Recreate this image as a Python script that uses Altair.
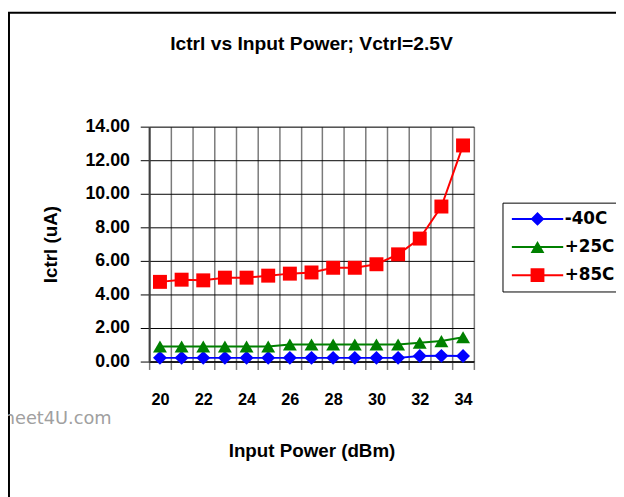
import altair as alt
import pandas as pd

powers = [20, 21, 22, 23, 24, 25, 26, 27, 28, 29, 30, 31, 32, 33, 34]
series_names = ["-40C", "+25C", "+85C"]
ictrl_m40 = [0.22, 0.22, 0.22, 0.22, 0.22, 0.22, 0.22, 0.22, 0.22, 0.22, 0.22, 0.22, 0.33, 0.34, 0.33]
ictrl_p25 = [0.90, 0.90, 0.90, 0.90, 0.90, 0.90, 1.02, 1.02, 1.02, 1.02, 1.02, 1.02, 1.12, 1.22, 1.45]
ictrl_p85 = [4.75, 4.88, 4.84, 5.00, 5.00, 5.12, 5.24, 5.31, 5.59, 5.59, 5.80, 6.39, 7.33, 9.24, 12.88]
y_ticks = [0, 2, 4, 6, 8, 10, 12, 14]
colors = ["#0000FF", "#008000", "#FF0000"]
shapes = ["diamond", "triangle-up", "square"]
# legend symbols: a short line with the marker on it (filled paths, same winding)
legend_shapes = [
    "M-1,-0.14H6.43V0.14H-1Z M1.71,0L2.71,-1L3.71,0L2.71,1Z",
    "M-1,-0.14H6.43V0.14H-1Z M1.71,0.87L2.71,-0.87L3.71,0.87Z",
    "M-1,-0.14H6.43V0.14H-1Z M1.71,-1H3.71V1H1.71Z",
]

rows = []
for name, vals in zip(series_names, [ictrl_m40, ictrl_p25, ictrl_p85]):
    for p, v in zip(powers, vals):
        rows.append({"P": p, "I": v, "S": name, "S2": name})
df = pd.DataFrame(rows)
leg_df = pd.DataFrame({"S": series_names})

FONT = "Liberation Sans"

color_scale = alt.Scale(domain=series_names, range=colors)

x_enc = alt.X(
    "P:O",
    scale=alt.Scale(paddingInner=0, paddingOuter=0),
    axis=alt.Axis(
        title="Input Power (dBm)", labelAngle=0, tickBand="extent",
        grid=True, gridColor="#7A7A7A", gridWidth=1.5,
        tickColor="#7A7A7A", tickWidth=1.5, tickSize=8,
        domainColor="black", domainWidth=1.5,
        labelExpr="datum.value % 2 == 0 ? datum.label : ''",
        labelFont=FONT, labelFontSize=16.5, labelFontWeight="bold", labelColor="black",
        labelPadding=31, labelBaseline="middle",
        titleFont=FONT, titleFontSize=19, titleFontWeight="bold", titleColor="black",
        titlePadding=34,
    ),
)
y_enc = alt.Y(
    "I:Q",
    scale=alt.Scale(domain=[0, 14], nice=False, zero=True),
    axis=alt.Axis(
        title="Ictrl (uA)", values=y_ticks, format=".2f",
        grid=True, gridColor="black", gridWidth=1,
        tickColor="black", tickSize=9, tickWidth=1,
        domainColor="#404040", domainWidth=2,
        labelFont=FONT, labelFontSize=18, labelFontWeight="bold", labelColor="black",
        labelPadding=11,
        titleFont=FONT, titleFontSize=19, titleFontWeight="bold", titleColor="black",
        titlePadding=25,
    ),
)

frame = alt.Chart(pd.DataFrame({"a": [0]})).mark_rect(
    fill=None, stroke="black", strokeWidth=2
).encode(
    x=alt.value(-142), x2=alt.value(700), y=alt.value(-115.5), y2=alt.value(600)
)

watermark = alt.Chart(pd.DataFrame({"t": ["www.DataSheet4U.com"]})).mark_text(
    align="right", baseline="middle", font="DejaVu Sans", fontSize=18, color="#A0A0A0"
).encode(
    x=alt.value(-38), y=alt.value(296), text="t:N"
)

lines = alt.Chart(df).mark_line(strokeWidth=2).encode(
    x=x_enc, y=y_enc,
    color=alt.Color("S:N", scale=color_scale, sort=series_names, legend=None),
)

points = alt.Chart(df).mark_point(filled=True, size=200, opacity=1).encode(
    x=x_enc, y=y_enc,
    color=alt.Color("S:N", scale=color_scale, sort=series_names, legend=None),
    shape=alt.Shape("S2:N", scale=alt.Scale(domain=series_names, range=shapes), legend=None),
)

legend_layer = alt.Chart(leg_df).mark_point(
    filled=True, size=196, opacity=1, clip=True
).encode(
    x=alt.value(-500), y=alt.value(-500),
    color=alt.Color("S:N", scale=color_scale, sort=series_names, legend=None),
    shape=alt.Shape("S:N", sort=series_names,
                    scale=alt.Scale(domain=series_names, range=legend_shapes),
                    legend=alt.Legend(
                        title=None, orient="none", legendX=358, legendY=77,
                        strokeColor="black", fillColor="white", padding=8,
                        symbolSize=196, labelOffset=38, rowPadding=10.5,
                        symbolFillColor=alt.ExprRef(expr="scale('color', datum.value)"),
                        symbolStrokeWidth=0, symbolOpacity=1,
                        labelFont="DejaVu Sans", labelFontSize=17, labelFontWeight="bold",
                        labelColor="black",
                    )),
)

chart = alt.layer(frame, watermark, lines, points, legend_layer).resolve_scale(
    shape="independent"
).properties(
    width=329, height=238,
    title=alt.TitleParams(
        "Ictrl vs Input Power; Vctrl=2.5V", font=FONT, fontSize=19.5,
        fontWeight="bold", color="black", anchor="middle", offset=-58,
        baseline="alphabetic",
    ),
    autosize=alt.AutoSizeParams(type="none"),
    padding={"left": 143, "top": 117, "right": 144, "bottom": 134},
).configure_view(stroke="#7A7A7A", strokeWidth=1.5).configure(background="white")

chart.save("out.html", embed_options={"renderer": "svg", "actions": False})
